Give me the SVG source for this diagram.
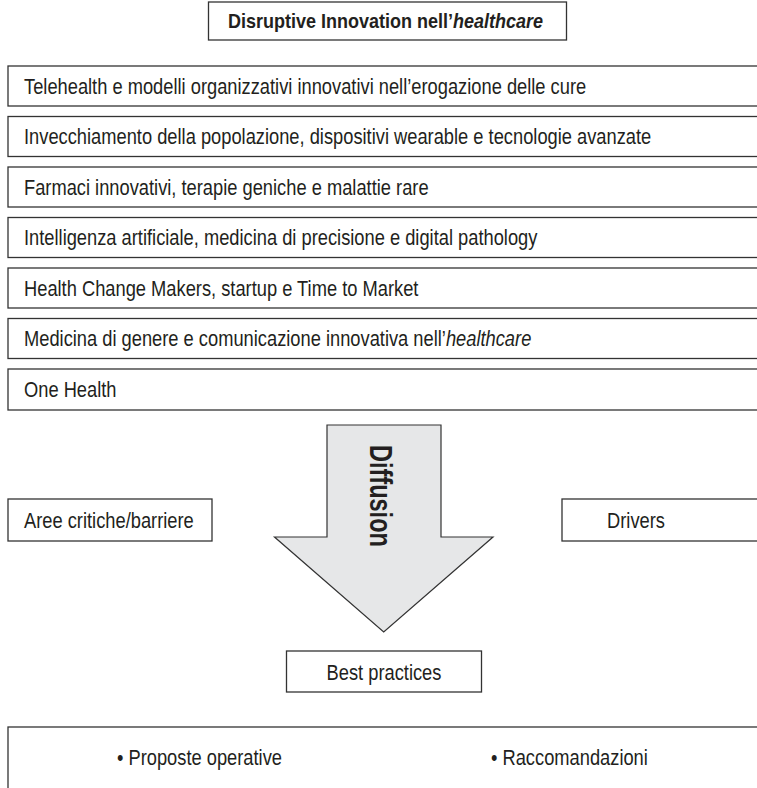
<svg xmlns="http://www.w3.org/2000/svg" width="757" height="788" viewBox="0 0 757 788">
<style>
.box{fill:#fff;stroke:#333;stroke-width:1.3}
.t{font-family:"Liberation Sans",Arial,sans-serif;font-size:22px;fill:#231f20}
.b{font-weight:bold}
.i{font-style:italic}
.m{text-anchor:middle}
.arrow{fill:#e6e7e8;stroke:#333;stroke-width:1.2}
</style>
<rect width="757" height="788" fill="#fff"/>
<g id="title">
<rect class="box" x="208.5" y="2" width="358" height="38"/>
<text class="t b m" style="font-size:20px" transform="translate(385.5,28) scale(0.9,1)">Disruptive Innovation nell’<tspan class="i">healthcare</tspan></text>
</g>
<g id="row1"><rect class="box" x="8" y="66" width="760" height="40"/>
<text class="t" transform="translate(24,93.5) scale(0.832,1)">Telehealth e modelli organizzativi innovativi nell’erogazione delle cure</text></g>
<g id="row2"><rect class="box" x="8" y="116.5" width="760" height="40"/>
<text class="t" transform="translate(24,144) scale(0.832,1)">Invecchiamento della popolazione, dispositivi wearable e tecnologie avanzate</text></g>
<g id="row3"><rect class="box" x="8" y="167" width="760" height="40"/>
<text class="t" transform="translate(24,194.5) scale(0.832,1)">Farmaci innovativi, terapie geniche e malattie rare</text></g>
<g id="row4"><rect class="box" x="8" y="217.5" width="760" height="40"/>
<text class="t" transform="translate(24,245) scale(0.832,1)">Intelligenza artificiale, medicina di precisione e digital pathology</text></g>
<g id="row5"><rect class="box" x="8" y="268" width="760" height="40"/>
<text class="t" transform="translate(24,295.5) scale(0.832,1)">Health Change Makers, startup e Time to Market</text></g>
<g id="row6"><rect class="box" x="8" y="318.5" width="760" height="40"/>
<text class="t" transform="translate(24,346) scale(0.832,1)">Medicina di genere e comunicazione innovativa nell’<tspan class="i">healthcare</tspan></text></g>
<g id="row7"><rect class="box" x="8" y="369" width="760" height="41"/>
<text class="t" transform="translate(24,397) scale(0.832,1)">One Health</text></g>
<g id="diffusion">
<path class="arrow" d="M327,425 H441 V537 H493 L383.7,632 L274.5,537 H327 Z"/>
<text class="t b" style="font-size:32px" transform="translate(370,445) rotate(90) scale(0.735,1)">Diffusion</text>
</g>
<g id="aree"><rect class="box" x="8" y="499" width="204" height="42"/>
<text class="t" transform="translate(24,527.5) scale(0.832,1)">Aree critiche/barriere</text></g>
<g id="drivers"><rect class="box" x="562" y="499" width="210" height="42"/>
<text class="t m" transform="translate(636,527.5) scale(0.832,1)">Drivers</text></g>
<g id="best"><rect class="box" x="286.5" y="651" width="195" height="41"/>
<text class="t m" transform="translate(384,679.5) scale(0.832,1)">Best practices</text></g>
<g id="proposte"><rect class="box" x="8" y="727" width="770" height="80"/>
<text class="t" transform="translate(117,765) scale(0.832,1)">• Proposte operative</text>
<text class="t" transform="translate(491,765) scale(0.832,1)">• Raccomandazioni</text></g>
<g id="connectors"></g>
</svg>
